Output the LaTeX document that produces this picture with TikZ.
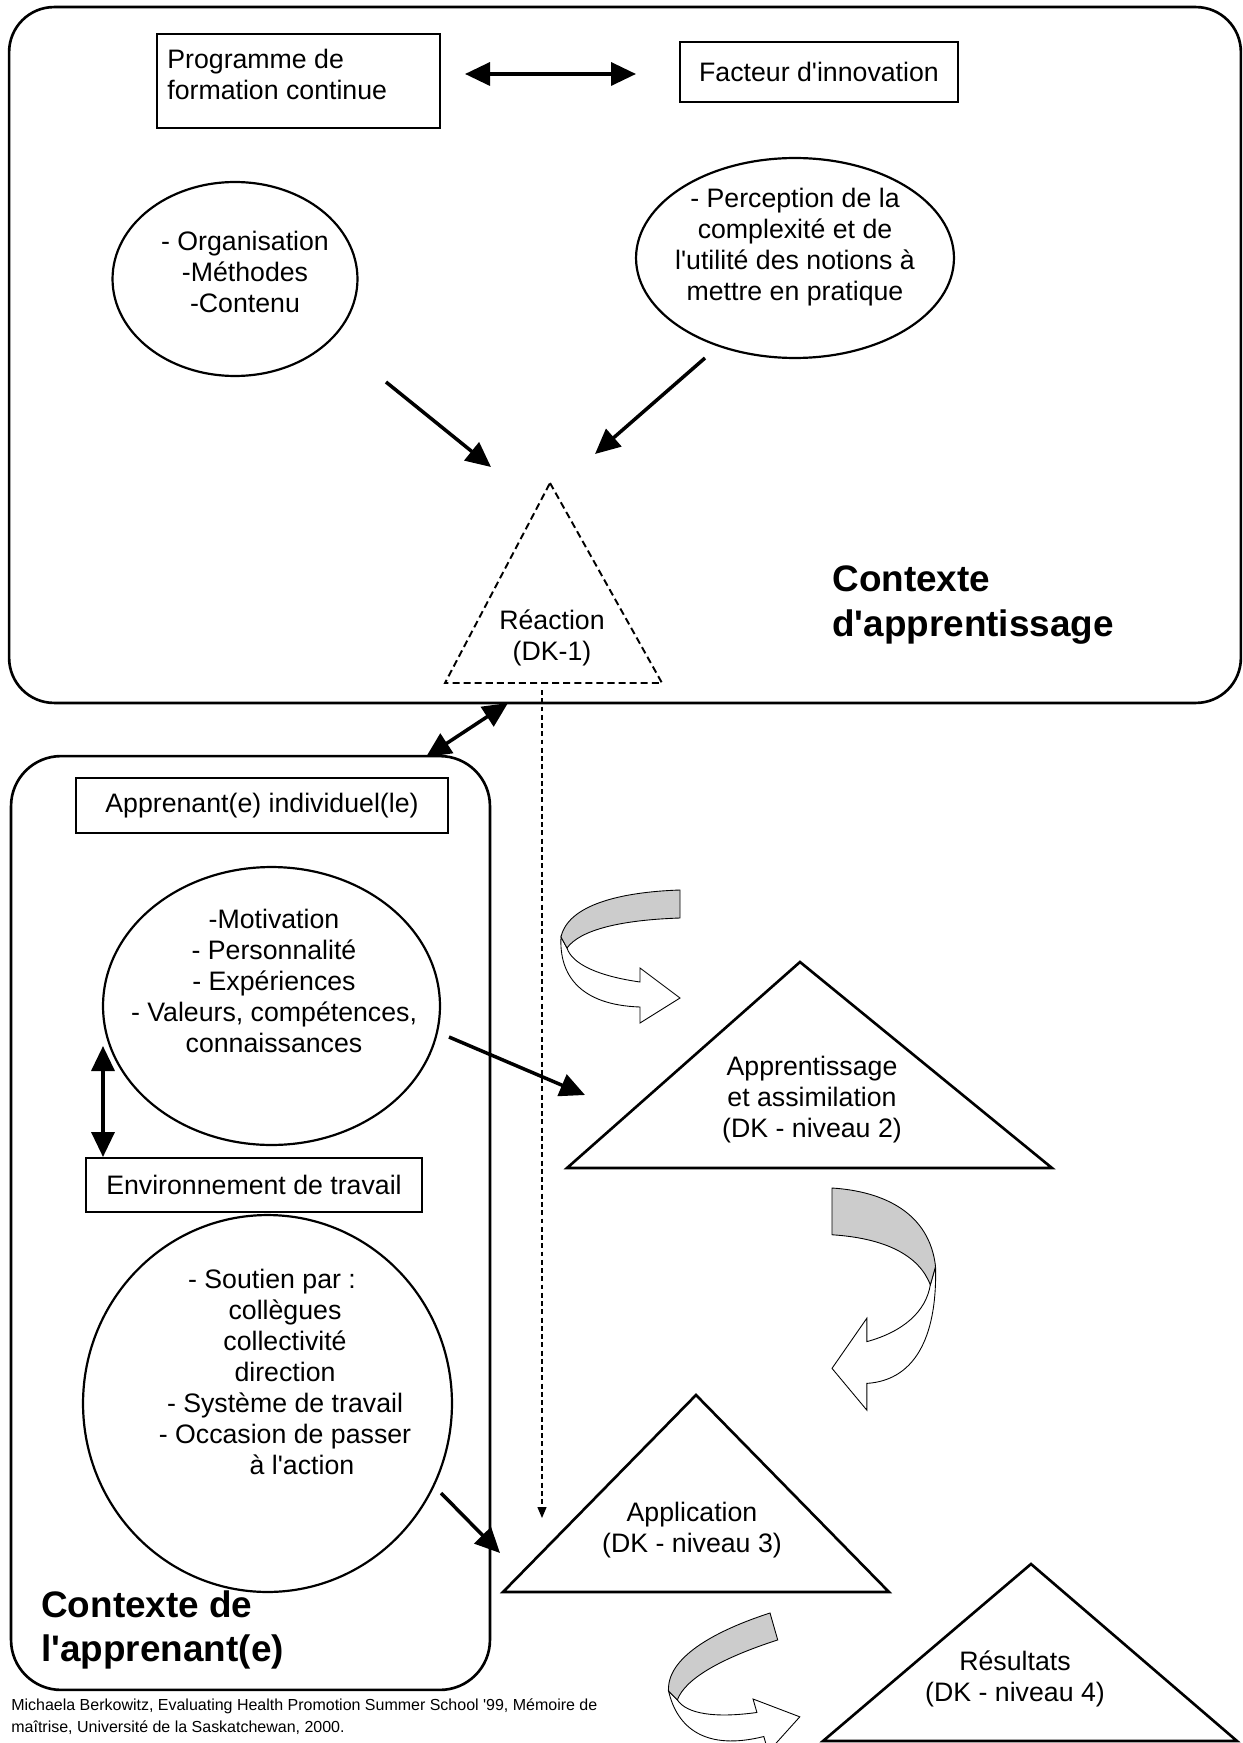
\documentclass[tikz,border=0pt]{standalone}
\usepackage{fontspec}
\setmainfont{Liberation Sans}
\usepackage{xcolor}
\usetikzlibrary{arrows.meta,shapes.geometric}
\definecolor{ribbon}{RGB}{204,204,204}
\newcommand\ap{\textquotesingle}

\tikzset{
  curlarrow/.pic={
    \draw[line width=0.5pt, fill=white] (-119,47) .. controls (-121,85) and (-100,115) .. (-40,117)
      -- (-40,133) -- (0,108) -- (-40,78) -- (-40,92) .. controls (-82,86) and (-108,74) .. (-113,58) -- cycle;
    \draw[line width=0.5pt, fill=ribbon] (0,0) .. controls (-60,2) and (-112,15) .. (-119,47)
      -- (-113,58) .. controls (-100,40) and (-60,30) .. (0,28) -- cycle;
  }
}

\begin{document}
\begin{tikzpicture}[
    x=0.02cm, y=-0.02cm,
    frame/.style={draw, line width=1.5pt, inner sep=0pt},
    box/.style={draw, line width=1.25pt, inner sep=0pt, font=\fontsize{15.2}{17.6}\selectfont},
    blob/.style={draw, ellipse, line width=1.25pt, inner sep=0pt},
    txt/.style={font=\fontsize{15.2}{17.6}\selectfont, align=center, inner sep=0pt},
    ttl/.style={font=\fontsize{21}{25.5}\selectfont\bfseries, align=left, anchor=west, inner sep=0pt},
    src/.style={font=\fontsize{9.1}{12.5}\selectfont, align=left, anchor=west, inner sep=0pt},
    push/.style={line width=2pt, -{Triangle[length=0.5cm,width=0.46cm]}},
    both/.style={line width=2pt, {Triangle[length=0.5cm,width=0.46cm]}-{Triangle[length=0.5cm,width=0.46cm]}},
    drop/.style={line width=0.8pt, dash pattern=on 2.8pt off 1.9pt, -{Triangle[length=0.22cm,width=0.18cm]}},
    tri/.style={line width=1.5pt, line join=miter}
  ]
  \useasboundingbox (0,0) rectangle (1243,1743);

  % contexts
  \node[frame, rounded corners=0.9cm, minimum width=24.64cm, minimum height=13.92cm] (learnctx) at (625,355) {};
  \node[frame, rounded corners=1cm, minimum width=9.58cm, minimum height=18.68cm] (selfctx) at (250.5,1223) {};
  \node[ttl] (learnctx-t) at (832,605) {Contexte\\d\ap apprentissage};
  \node[ttl] (selfctx-t) at (41,1630) {Contexte de\\l\ap apprenant(e)};

  % boxes
  \node[box, minimum width=5.66cm, minimum height=1.88cm] (prog) at (298.5,81) {};
  \node[txt, anchor=west, align=left] (prog-t) at (167,74) {Programme de\\formation continue};
  \node[box, minimum width=5.56cm, minimum height=1.2cm] (innov) at (819,72) {Facteur d\ap innovation};
  \node[box, minimum width=7.44cm, minimum height=1.1cm] (learner) at (262,805.5) {Apprenant(e) individuel(le)};
  \node[box, minimum width=6.72cm, minimum height=1.08cm] (work) at (254,1185) {Environnement de travail};

  % ellipses
  \node[blob, minimum width=4.9cm, minimum height=3.88cm] (orga) at (235,279) {};
  \node[txt] (orga-t) at (245,272) {- Organisation\\-Méthodes\\-Contenu};
  \node[blob, minimum width=6.36cm, minimum height=4.0cm] (perc) at (795,258) {};
  \node[txt] (perc-t) at (795,247) {- Perception de la\\complexité et de\\l\ap utilité des notions à\\mettre en pratique};
  \node[blob, minimum width=6.74cm, minimum height=5.56cm] (motiv) at (271.5,1006) {};
  \node[txt] (motiv-t) at (274,981) {-Motivation\\- Personnalité\\- Expériences\\- Valeurs, compétences,\\connaissances};
  \node[blob, minimum width=7.38cm, minimum height=7.54cm] (support) at (267.5,1403.5) {};
  \node[txt] (support-t) at (285,1372) {- Soutien par :\hspace*{0.52cm}\\collègues\\collectivité\\direction\\- Système de travail\\- Occasion de passer\\\hspace*{0.68cm}à l\ap action};

  % levels
  \draw[tri, dash pattern=on 4pt off 2.3pt, line width=1.1pt] (550,483) coordinate (dk1) -- (662,683) -- (445,683) -- cycle;
  \node[txt] (dk1-t) at (552,638) {Réaction\\(DK-1)};
  \draw[tri] (800,962) coordinate (dk2) -- (1052,1168) -- (567,1168) -- cycle;
  \node[txt] (dk2-t) at (812,1100) {Apprentissage\\et assimilation\\(DK - niveau 2)};
  \draw[tri] (696,1395) coordinate (dk3) -- (889,1592) -- (503,1592) -- cycle;
  \node[txt] (dk3-t) at (692,1530) {Application\\(DK - niveau 3)};
  \draw[tri] (1031,1564) coordinate (dk4) -- (1237,1741) -- (823,1741) -- cycle;
  \node[txt] (dk4-t) at (1015,1679) {Résultats\\(DK - niveau 4)};

  % arrow ends
  \coordinate (prog-r) at (465,74);   \coordinate (innov-l) at (636,74);
  \coordinate (orga-o) at (386,382);  \coordinate (dk1-l) at (491,467);
  \coordinate (perc-o) at (705,358);  \coordinate (dk1-r) at (595,454);
  \coordinate (selfctx-n) at (426,757); \coordinate (learnctx-s) at (508,703);
  \coordinate (motiv-s) at (103,1046); \coordinate (work-n) at (103,1157);
  \coordinate (motiv-o) at (449,1037); \coordinate (dk2-l) at (585,1095);
  \coordinate (support-o) at (441,1493); \coordinate (dk3-l) at (500,1553);
  \coordinate (dk1-b) at (542,690);   \coordinate (dk3-in) at (542,1518);

  % arrows
  \draw[both] (prog-r) -- (innov-l);
  \draw[push] (orga-o) -- (dk1-l);
  \draw[push] (perc-o) -- (dk1-r);
  \draw[both] (selfctx-n) -- (learnctx-s);
  \draw[both] (motiv-s) -- (work-n);
  \draw[push] (motiv-o) -- (dk2-l);
  \draw[push] (support-o) -- (dk3-l);
  \draw[drop] (dk1-b) -- (dk3-in);

  % curled arrows
  \pic at (680,890) {curlarrow};
  \pic[xscale=-0.87, yscale=1.67] at (832,1188) {curlarrow};
  \pic[rotate=16] at (770,1613) {curlarrow};

  \node[src] (cite) at (11,1717) {Michaela Berkowitz, Evaluating Health Promotion Summer School \ap 99, Mémoire de\\maîtrise, Université de la Saskatchewan, 2000.};
\end{tikzpicture}
\end{document}
